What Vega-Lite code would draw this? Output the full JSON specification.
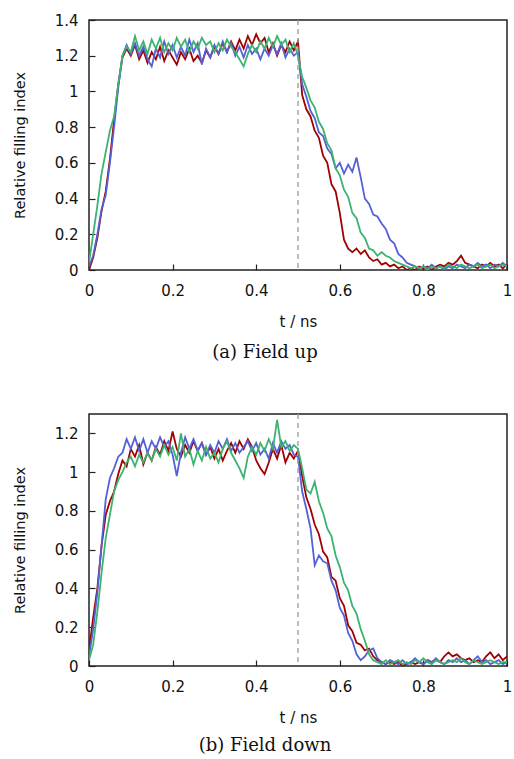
{
"$schema":"https://vega.github.io/schema/vega-lite/v6.json",
"background":"white",
"padding":{"left":11,"top":12,"right":5,"bottom":5},
"spacing":49,
"config":{
 "view":{"stroke":"#222","strokeWidth":1.5},
 "axis":{"domain":false,"grid":false,"tickSize":-6,"tickColor":"#222","tickWidth":1.2,"labelFont":"DejaVu Sans","labelFontSize":15,"labelColor":"#111","labelFlush":false,"labelOverlap":false,"titleFont":"DejaVu Sans","titleFontSize":15,"titleFontWeight":"normal","titleColor":"#111","format":"~g"},
 "axisX":{"labelPadding":19,"titlePadding":16},
 "axisY":{"labelPadding":17,"titlePadding":27,"titleFontSize":14.5},
 "title":{"font":"DejaVu Serif","fontSize":18,"fontWeight":"normal","color":"#111","orient":"bottom","anchor":"middle","frame":"bounds","offset":15,"dx":3}
},
"datasets":{
"a":[
{"t":0.00,"s":"r","v":0.00},{"t":0.01,"s":"r","v":0.07},{"t":0.02,"s":"r","v":0.18},{"t":0.03,"s":"r","v":0.33},{"t":0.04,"s":"r","v":0.44},{"t":0.05,"s":"r","v":0.62},{"t":0.06,"s":"r","v":0.84},{"t":0.07,"s":"r","v":1.04},{"t":0.08,"s":"r","v":1.19},{"t":0.09,"s":"r","v":1.24},
{"t":0.10,"s":"r","v":1.20},{"t":0.11,"s":"r","v":1.26},{"t":0.12,"s":"r","v":1.18},{"t":0.13,"s":"r","v":1.23},{"t":0.14,"s":"r","v":1.16},{"t":0.15,"s":"r","v":1.22},{"t":0.16,"s":"r","v":1.18},{"t":0.17,"s":"r","v":1.25},{"t":0.18,"s":"r","v":1.17},{"t":0.19,"s":"r","v":1.23},
{"t":0.20,"s":"r","v":1.19},{"t":0.21,"s":"r","v":1.15},{"t":0.22,"s":"r","v":1.22},{"t":0.23,"s":"r","v":1.18},{"t":0.24,"s":"r","v":1.24},{"t":0.25,"s":"r","v":1.17},{"t":0.26,"s":"r","v":1.20},{"t":0.27,"s":"r","v":1.16},{"t":0.28,"s":"r","v":1.23},{"t":0.29,"s":"r","v":1.19},
{"t":0.30,"s":"r","v":1.25},{"t":0.31,"s":"r","v":1.21},{"t":0.32,"s":"r","v":1.27},{"t":0.33,"s":"r","v":1.22},{"t":0.34,"s":"r","v":1.28},{"t":0.35,"s":"r","v":1.23},{"t":0.36,"s":"r","v":1.29},{"t":0.37,"s":"r","v":1.24},{"t":0.38,"s":"r","v":1.31},{"t":0.39,"s":"r","v":1.26},
{"t":0.40,"s":"r","v":1.32},{"t":0.41,"s":"r","v":1.27},{"t":0.42,"s":"r","v":1.30},{"t":0.43,"s":"r","v":1.22},{"t":0.44,"s":"r","v":1.27},{"t":0.45,"s":"r","v":1.20},{"t":0.46,"s":"r","v":1.26},{"t":0.47,"s":"r","v":1.22},{"t":0.48,"s":"r","v":1.28},{"t":0.49,"s":"r","v":1.23},
{"t":0.50,"s":"r","v":1.28},{"t":0.51,"s":"r","v":0.98},{"t":0.52,"s":"r","v":0.90},{"t":0.53,"s":"r","v":0.86},{"t":0.54,"s":"r","v":0.78},{"t":0.55,"s":"r","v":0.74},{"t":0.56,"s":"r","v":0.64},{"t":0.57,"s":"r","v":0.60},{"t":0.58,"s":"r","v":0.48},{"t":0.59,"s":"r","v":0.44},
{"t":0.60,"s":"r","v":0.32},{"t":0.61,"s":"r","v":0.17},{"t":0.62,"s":"r","v":0.12},{"t":0.63,"s":"r","v":0.10},{"t":0.64,"s":"r","v":0.12},{"t":0.65,"s":"r","v":0.09},{"t":0.66,"s":"r","v":0.11},{"t":0.67,"s":"r","v":0.07},{"t":0.68,"s":"r","v":0.05},{"t":0.69,"s":"r","v":0.06},
{"t":0.70,"s":"r","v":0.03},{"t":0.71,"s":"r","v":0.04},{"t":0.72,"s":"r","v":0.02},{"t":0.73,"s":"r","v":0.03},{"t":0.74,"s":"r","v":0.01},{"t":0.75,"s":"r","v":0.02},{"t":0.76,"s":"r","v":0.00},{"t":0.77,"s":"r","v":0.01},{"t":0.78,"s":"r","v":0.00},{"t":0.79,"s":"r","v":0.02},
{"t":0.80,"s":"r","v":0.01},{"t":0.81,"s":"r","v":0.02},{"t":0.82,"s":"r","v":0.00},{"t":0.83,"s":"r","v":0.02},{"t":0.84,"s":"r","v":0.03},{"t":0.85,"s":"r","v":0.02},{"t":0.86,"s":"r","v":0.04},{"t":0.87,"s":"r","v":0.03},{"t":0.88,"s":"r","v":0.05},{"t":0.89,"s":"r","v":0.08},
{"t":0.90,"s":"r","v":0.04},{"t":0.91,"s":"r","v":0.03},{"t":0.92,"s":"r","v":0.02},{"t":0.93,"s":"r","v":0.01},{"t":0.94,"s":"r","v":0.03},{"t":0.95,"s":"r","v":0.02},{"t":0.96,"s":"r","v":0.04},{"t":0.97,"s":"r","v":0.02},{"t":0.98,"s":"r","v":0.03},{"t":0.99,"s":"r","v":0.01},{"t":1.00,"s":"r","v":0.03},
{"t":0.00,"s":"b","v":0.02},{"t":0.01,"s":"b","v":0.08},{"t":0.02,"s":"b","v":0.20},{"t":0.03,"s":"b","v":0.34},{"t":0.04,"s":"b","v":0.42},{"t":0.05,"s":"b","v":0.60},{"t":0.06,"s":"b","v":0.80},{"t":0.07,"s":"b","v":1.02},{"t":0.08,"s":"b","v":1.20},{"t":0.09,"s":"b","v":1.26},
{"t":0.10,"s":"b","v":1.21},{"t":0.11,"s":"b","v":1.27},{"t":0.12,"s":"b","v":1.20},{"t":0.13,"s":"b","v":1.25},{"t":0.14,"s":"b","v":1.18},{"t":0.15,"s":"b","v":1.14},{"t":0.16,"s":"b","v":1.24},{"t":0.17,"s":"b","v":1.19},{"t":0.18,"s":"b","v":1.28},{"t":0.19,"s":"b","v":1.21},
{"t":0.20,"s":"b","v":1.26},{"t":0.21,"s":"b","v":1.19},{"t":0.22,"s":"b","v":1.25},{"t":0.23,"s":"b","v":1.20},{"t":0.24,"s":"b","v":1.29},{"t":0.25,"s":"b","v":1.22},{"t":0.26,"s":"b","v":1.27},{"t":0.27,"s":"b","v":1.15},{"t":0.28,"s":"b","v":1.24},{"t":0.29,"s":"b","v":1.19},
{"t":0.30,"s":"b","v":1.26},{"t":0.31,"s":"b","v":1.21},{"t":0.32,"s":"b","v":1.28},{"t":0.33,"s":"b","v":1.22},{"t":0.34,"s":"b","v":1.27},{"t":0.35,"s":"b","v":1.20},{"t":0.36,"s":"b","v":1.25},{"t":0.37,"s":"b","v":1.19},{"t":0.38,"s":"b","v":1.26},{"t":0.39,"s":"b","v":1.21},
{"t":0.40,"s":"b","v":1.24},{"t":0.41,"s":"b","v":1.18},{"t":0.42,"s":"b","v":1.24},{"t":0.43,"s":"b","v":1.20},{"t":0.44,"s":"b","v":1.26},{"t":0.45,"s":"b","v":1.21},{"t":0.46,"s":"b","v":1.27},{"t":0.47,"s":"b","v":1.19},{"t":0.48,"s":"b","v":1.24},{"t":0.49,"s":"b","v":1.20},
{"t":0.50,"s":"b","v":1.22},{"t":0.51,"s":"b","v":1.04},{"t":0.52,"s":"b","v":0.97},{"t":0.53,"s":"b","v":0.89},{"t":0.54,"s":"b","v":0.85},{"t":0.55,"s":"b","v":0.77},{"t":0.56,"s":"b","v":0.75},{"t":0.57,"s":"b","v":0.68},{"t":0.58,"s":"b","v":0.65},{"t":0.59,"s":"b","v":0.57},
{"t":0.60,"s":"b","v":0.60},{"t":0.61,"s":"b","v":0.54},{"t":0.62,"s":"b","v":0.59},{"t":0.63,"s":"b","v":0.55},{"t":0.64,"s":"b","v":0.63},{"t":0.65,"s":"b","v":0.52},{"t":0.66,"s":"b","v":0.40},{"t":0.67,"s":"b","v":0.37},{"t":0.68,"s":"b","v":0.31},{"t":0.69,"s":"b","v":0.30},
{"t":0.70,"s":"b","v":0.26},{"t":0.71,"s":"b","v":0.23},{"t":0.72,"s":"b","v":0.17},{"t":0.73,"s":"b","v":0.15},{"t":0.74,"s":"b","v":0.09},{"t":0.75,"s":"b","v":0.07},{"t":0.76,"s":"b","v":0.04},{"t":0.77,"s":"b","v":0.03},{"t":0.78,"s":"b","v":0.02},{"t":0.79,"s":"b","v":0.01},
{"t":0.80,"s":"b","v":0.02},{"t":0.81,"s":"b","v":0.01},{"t":0.82,"s":"b","v":0.03},{"t":0.83,"s":"b","v":0.01},{"t":0.84,"s":"b","v":0.02},{"t":0.85,"s":"b","v":0.00},{"t":0.86,"s":"b","v":0.02},{"t":0.87,"s":"b","v":0.01},{"t":0.88,"s":"b","v":0.03},{"t":0.89,"s":"b","v":0.02},
{"t":0.90,"s":"b","v":0.01},{"t":0.91,"s":"b","v":0.03},{"t":0.92,"s":"b","v":0.02},{"t":0.93,"s":"b","v":0.04},{"t":0.94,"s":"b","v":0.02},{"t":0.95,"s":"b","v":0.03},{"t":0.96,"s":"b","v":0.01},{"t":0.97,"s":"b","v":0.03},{"t":0.98,"s":"b","v":0.02},{"t":0.99,"s":"b","v":0.04},{"t":1.00,"s":"b","v":0.02},
{"t":0.00,"s":"g","v":0.04},{"t":0.01,"s":"g","v":0.20},{"t":0.02,"s":"g","v":0.36},{"t":0.03,"s":"g","v":0.54},{"t":0.04,"s":"g","v":0.66},{"t":0.05,"s":"g","v":0.78},{"t":0.06,"s":"g","v":0.86},{"t":0.07,"s":"g","v":1.04},{"t":0.08,"s":"g","v":1.20},{"t":0.09,"s":"g","v":1.25},
{"t":0.10,"s":"g","v":1.22},{"t":0.11,"s":"g","v":1.31},{"t":0.12,"s":"g","v":1.23},{"t":0.13,"s":"g","v":1.28},{"t":0.14,"s":"g","v":1.21},{"t":0.15,"s":"g","v":1.29},{"t":0.16,"s":"g","v":1.24},{"t":0.17,"s":"g","v":1.30},{"t":0.18,"s":"g","v":1.22},{"t":0.19,"s":"g","v":1.27},
{"t":0.20,"s":"g","v":1.23},{"t":0.21,"s":"g","v":1.30},{"t":0.22,"s":"g","v":1.25},{"t":0.23,"s":"g","v":1.29},{"t":0.24,"s":"g","v":1.22},{"t":0.25,"s":"g","v":1.28},{"t":0.26,"s":"g","v":1.24},{"t":0.27,"s":"g","v":1.30},{"t":0.28,"s":"g","v":1.26},{"t":0.29,"s":"g","v":1.28},
{"t":0.30,"s":"g","v":1.22},{"t":0.31,"s":"g","v":1.27},{"t":0.32,"s":"g","v":1.23},{"t":0.33,"s":"g","v":1.29},{"t":0.34,"s":"g","v":1.25},{"t":0.35,"s":"g","v":1.22},{"t":0.36,"s":"g","v":1.18},{"t":0.37,"s":"g","v":1.14},{"t":0.38,"s":"g","v":1.21},{"t":0.39,"s":"g","v":1.26},
{"t":0.40,"s":"g","v":1.22},{"t":0.41,"s":"g","v":1.28},{"t":0.42,"s":"g","v":1.24},{"t":0.43,"s":"g","v":1.30},{"t":0.44,"s":"g","v":1.25},{"t":0.45,"s":"g","v":1.31},{"t":0.46,"s":"g","v":1.26},{"t":0.47,"s":"g","v":1.29},{"t":0.48,"s":"g","v":1.22},{"t":0.49,"s":"g","v":1.27},
{"t":0.50,"s":"g","v":1.20},{"t":0.51,"s":"g","v":1.08},{"t":0.52,"s":"g","v":1.02},{"t":0.53,"s":"g","v":0.95},{"t":0.54,"s":"g","v":0.91},{"t":0.55,"s":"g","v":0.83},{"t":0.56,"s":"g","v":0.79},{"t":0.57,"s":"g","v":0.71},{"t":0.58,"s":"g","v":0.67},{"t":0.59,"s":"g","v":0.57},
{"t":0.60,"s":"g","v":0.53},{"t":0.61,"s":"g","v":0.45},{"t":0.62,"s":"g","v":0.41},{"t":0.63,"s":"g","v":0.32},{"t":0.64,"s":"g","v":0.29},{"t":0.65,"s":"g","v":0.21},{"t":0.66,"s":"g","v":0.18},{"t":0.67,"s":"g","v":0.12},{"t":0.68,"s":"g","v":0.11},{"t":0.69,"s":"g","v":0.08},
{"t":0.70,"s":"g","v":0.10},{"t":0.71,"s":"g","v":0.08},{"t":0.72,"s":"g","v":0.07},{"t":0.73,"s":"g","v":0.05},{"t":0.74,"s":"g","v":0.04},{"t":0.75,"s":"g","v":0.03},{"t":0.76,"s":"g","v":0.02},{"t":0.77,"s":"g","v":0.01},{"t":0.78,"s":"g","v":0.02},{"t":0.79,"s":"g","v":0.01},
{"t":0.80,"s":"g","v":0.02},{"t":0.81,"s":"g","v":0.00},{"t":0.82,"s":"g","v":0.02},{"t":0.83,"s":"g","v":0.01},{"t":0.84,"s":"g","v":0.02},{"t":0.85,"s":"g","v":0.01},{"t":0.86,"s":"g","v":0.03},{"t":0.87,"s":"g","v":0.02},{"t":0.88,"s":"g","v":0.01},{"t":0.89,"s":"g","v":0.03},
{"t":0.90,"s":"g","v":0.02},{"t":0.91,"s":"g","v":0.01},{"t":0.92,"s":"g","v":0.02},{"t":0.93,"s":"g","v":0.03},{"t":0.94,"s":"g","v":0.01},{"t":0.95,"s":"g","v":0.02},{"t":0.96,"s":"g","v":0.03},{"t":0.97,"s":"g","v":0.01},{"t":0.98,"s":"g","v":0.02},{"t":0.99,"s":"g","v":0.03},{"t":1.00,"s":"g","v":0.02}
],
"b":[
{"t":0.00,"s":"r","v":0.08},{"t":0.01,"s":"r","v":0.25},{"t":0.02,"s":"r","v":0.40},{"t":0.03,"s":"r","v":0.62},{"t":0.04,"s":"r","v":0.78},{"t":0.05,"s":"r","v":0.85},{"t":0.06,"s":"r","v":0.90},{"t":0.07,"s":"r","v":0.99},{"t":0.08,"s":"r","v":1.06},{"t":0.09,"s":"r","v":1.03},
{"t":0.10,"s":"r","v":1.12},{"t":0.11,"s":"r","v":1.08},{"t":0.12,"s":"r","v":1.14},{"t":0.13,"s":"r","v":1.04},{"t":0.14,"s":"r","v":1.10},{"t":0.15,"s":"r","v":1.06},{"t":0.16,"s":"r","v":1.13},{"t":0.17,"s":"r","v":1.09},{"t":0.18,"s":"r","v":1.16},{"t":0.19,"s":"r","v":1.11},
{"t":0.20,"s":"r","v":1.21},{"t":0.21,"s":"r","v":1.12},{"t":0.22,"s":"r","v":1.08},{"t":0.23,"s":"r","v":1.14},{"t":0.24,"s":"r","v":1.10},{"t":0.25,"s":"r","v":1.16},{"t":0.26,"s":"r","v":1.11},{"t":0.27,"s":"r","v":1.15},{"t":0.28,"s":"r","v":1.09},{"t":0.29,"s":"r","v":1.13},
{"t":0.30,"s":"r","v":1.07},{"t":0.31,"s":"r","v":1.12},{"t":0.32,"s":"r","v":1.06},{"t":0.33,"s":"r","v":1.11},{"t":0.34,"s":"r","v":1.15},{"t":0.35,"s":"r","v":1.10},{"t":0.36,"s":"r","v":1.16},{"t":0.37,"s":"r","v":1.12},{"t":0.38,"s":"r","v":1.17},{"t":0.39,"s":"r","v":1.13},
{"t":0.40,"s":"r","v":1.06},{"t":0.41,"s":"r","v":1.02},{"t":0.42,"s":"r","v":0.99},{"t":0.43,"s":"r","v":1.05},{"t":0.44,"s":"r","v":1.12},{"t":0.45,"s":"r","v":1.07},{"t":0.46,"s":"r","v":1.14},{"t":0.47,"s":"r","v":1.05},{"t":0.48,"s":"r","v":1.10},{"t":0.49,"s":"r","v":1.07},
{"t":0.50,"s":"r","v":1.11},{"t":0.51,"s":"r","v":0.98},{"t":0.52,"s":"r","v":0.87},{"t":0.53,"s":"r","v":0.81},{"t":0.54,"s":"r","v":0.73},{"t":0.55,"s":"r","v":0.68},{"t":0.56,"s":"r","v":0.59},{"t":0.57,"s":"r","v":0.56},{"t":0.58,"s":"r","v":0.46},{"t":0.59,"s":"r","v":0.44},
{"t":0.60,"s":"r","v":0.35},{"t":0.61,"s":"r","v":0.31},{"t":0.62,"s":"r","v":0.21},{"t":0.63,"s":"r","v":0.18},{"t":0.64,"s":"r","v":0.12},{"t":0.65,"s":"r","v":0.11},{"t":0.66,"s":"r","v":0.08},{"t":0.67,"s":"r","v":0.09},{"t":0.68,"s":"r","v":0.05},{"t":0.69,"s":"r","v":0.03},
{"t":0.70,"s":"r","v":0.02},{"t":0.71,"s":"r","v":0.01},{"t":0.72,"s":"r","v":0.02},{"t":0.73,"s":"r","v":0.01},{"t":0.74,"s":"r","v":0.02},{"t":0.75,"s":"r","v":0.00},{"t":0.76,"s":"r","v":0.01},{"t":0.77,"s":"r","v":0.02},{"t":0.78,"s":"r","v":0.01},{"t":0.79,"s":"r","v":0.02},
{"t":0.80,"s":"r","v":0.01},{"t":0.81,"s":"r","v":0.03},{"t":0.82,"s":"r","v":0.02},{"t":0.83,"s":"r","v":0.03},{"t":0.84,"s":"r","v":0.02},{"t":0.85,"s":"r","v":0.05},{"t":0.86,"s":"r","v":0.07},{"t":0.87,"s":"r","v":0.05},{"t":0.88,"s":"r","v":0.06},{"t":0.89,"s":"r","v":0.04},
{"t":0.90,"s":"r","v":0.03},{"t":0.91,"s":"r","v":0.04},{"t":0.92,"s":"r","v":0.02},{"t":0.93,"s":"r","v":0.03},{"t":0.94,"s":"r","v":0.02},{"t":0.95,"s":"r","v":0.05},{"t":0.96,"s":"r","v":0.07},{"t":0.97,"s":"r","v":0.04},{"t":0.98,"s":"r","v":0.06},{"t":0.99,"s":"r","v":0.03},{"t":1.00,"s":"r","v":0.05},
{"t":0.00,"s":"b","v":0.05},{"t":0.01,"s":"b","v":0.19},{"t":0.02,"s":"b","v":0.38},{"t":0.03,"s":"b","v":0.62},{"t":0.04,"s":"b","v":0.86},{"t":0.05,"s":"b","v":0.97},{"t":0.06,"s":"b","v":1.02},{"t":0.07,"s":"b","v":1.08},{"t":0.08,"s":"b","v":1.10},{"t":0.09,"s":"b","v":1.17},
{"t":0.10,"s":"b","v":1.12},{"t":0.11,"s":"b","v":1.18},{"t":0.12,"s":"b","v":1.11},{"t":0.13,"s":"b","v":1.17},{"t":0.14,"s":"b","v":1.10},{"t":0.15,"s":"b","v":1.16},{"t":0.16,"s":"b","v":1.12},{"t":0.17,"s":"b","v":1.18},{"t":0.18,"s":"b","v":1.13},{"t":0.19,"s":"b","v":1.16},
{"t":0.20,"s":"b","v":1.09},{"t":0.21,"s":"b","v":0.98},{"t":0.22,"s":"b","v":1.10},{"t":0.23,"s":"b","v":1.18},{"t":0.24,"s":"b","v":1.12},{"t":0.25,"s":"b","v":1.17},{"t":0.26,"s":"b","v":1.11},{"t":0.27,"s":"b","v":1.15},{"t":0.28,"s":"b","v":1.09},{"t":0.29,"s":"b","v":1.14},
{"t":0.30,"s":"b","v":1.10},{"t":0.31,"s":"b","v":1.16},{"t":0.32,"s":"b","v":1.12},{"t":0.33,"s":"b","v":1.17},{"t":0.34,"s":"b","v":1.11},{"t":0.35,"s":"b","v":1.15},{"t":0.36,"s":"b","v":1.10},{"t":0.37,"s":"b","v":1.13},{"t":0.38,"s":"b","v":1.16},{"t":0.39,"s":"b","v":1.11},
{"t":0.40,"s":"b","v":1.15},{"t":0.41,"s":"b","v":1.09},{"t":0.42,"s":"b","v":1.12},{"t":0.43,"s":"b","v":1.07},{"t":0.44,"s":"b","v":1.15},{"t":0.45,"s":"b","v":1.10},{"t":0.46,"s":"b","v":1.16},{"t":0.47,"s":"b","v":1.12},{"t":0.48,"s":"b","v":1.14},{"t":0.49,"s":"b","v":1.09},
{"t":0.50,"s":"b","v":1.08},{"t":0.51,"s":"b","v":0.90},{"t":0.52,"s":"b","v":0.81},{"t":0.53,"s":"b","v":0.71},{"t":0.54,"s":"b","v":0.52},{"t":0.55,"s":"b","v":0.57},{"t":0.56,"s":"b","v":0.54},{"t":0.57,"s":"b","v":0.53},{"t":0.58,"s":"b","v":0.44},{"t":0.59,"s":"b","v":0.39},
{"t":0.60,"s":"b","v":0.30},{"t":0.61,"s":"b","v":0.26},{"t":0.62,"s":"b","v":0.17},{"t":0.63,"s":"b","v":0.13},{"t":0.64,"s":"b","v":0.06},{"t":0.65,"s":"b","v":0.03},{"t":0.66,"s":"b","v":0.05},{"t":0.67,"s":"b","v":0.08},{"t":0.68,"s":"b","v":0.09},{"t":0.69,"s":"b","v":0.04},
{"t":0.70,"s":"b","v":0.02},{"t":0.71,"s":"b","v":0.01},{"t":0.72,"s":"b","v":0.03},{"t":0.73,"s":"b","v":0.02},{"t":0.74,"s":"b","v":0.01},{"t":0.75,"s":"b","v":0.03},{"t":0.76,"s":"b","v":0.01},{"t":0.77,"s":"b","v":0.02},{"t":0.78,"s":"b","v":0.04},{"t":0.79,"s":"b","v":0.02},
{"t":0.80,"s":"b","v":0.01},{"t":0.81,"s":"b","v":0.03},{"t":0.82,"s":"b","v":0.02},{"t":0.83,"s":"b","v":0.04},{"t":0.84,"s":"b","v":0.02},{"t":0.85,"s":"b","v":0.01},{"t":0.86,"s":"b","v":0.03},{"t":0.87,"s":"b","v":0.02},{"t":0.88,"s":"b","v":0.04},{"t":0.89,"s":"b","v":0.02},
{"t":0.90,"s":"b","v":0.03},{"t":0.91,"s":"b","v":0.01},{"t":0.92,"s":"b","v":0.03},{"t":0.93,"s":"b","v":0.05},{"t":0.94,"s":"b","v":0.02},{"t":0.95,"s":"b","v":0.03},{"t":0.96,"s":"b","v":0.01},{"t":0.97,"s":"b","v":0.02},{"t":0.98,"s":"b","v":0.03},{"t":0.99,"s":"b","v":0.01},{"t":1.00,"s":"b","v":0.02},
{"t":0.00,"s":"g","v":0.03},{"t":0.01,"s":"g","v":0.11},{"t":0.02,"s":"g","v":0.28},{"t":0.03,"s":"g","v":0.48},{"t":0.04,"s":"g","v":0.66},{"t":0.05,"s":"g","v":0.78},{"t":0.06,"s":"g","v":0.90},{"t":0.07,"s":"g","v":0.96},{"t":0.08,"s":"g","v":1.00},{"t":0.09,"s":"g","v":1.05},
{"t":0.10,"s":"g","v":1.08},{"t":0.11,"s":"g","v":1.03},{"t":0.12,"s":"g","v":1.09},{"t":0.13,"s":"g","v":1.05},{"t":0.14,"s":"g","v":1.10},{"t":0.15,"s":"g","v":1.06},{"t":0.16,"s":"g","v":1.12},{"t":0.17,"s":"g","v":1.08},{"t":0.18,"s":"g","v":1.14},{"t":0.19,"s":"g","v":1.09},
{"t":0.20,"s":"g","v":1.13},{"t":0.21,"s":"g","v":1.06},{"t":0.22,"s":"g","v":1.20},{"t":0.23,"s":"g","v":1.08},{"t":0.24,"s":"g","v":1.12},{"t":0.25,"s":"g","v":1.04},{"t":0.26,"s":"g","v":1.11},{"t":0.27,"s":"g","v":1.06},{"t":0.28,"s":"g","v":1.13},{"t":0.29,"s":"g","v":1.07},
{"t":0.30,"s":"g","v":1.10},{"t":0.31,"s":"g","v":1.05},{"t":0.32,"s":"g","v":1.12},{"t":0.33,"s":"g","v":1.16},{"t":0.34,"s":"g","v":1.10},{"t":0.35,"s":"g","v":1.06},{"t":0.36,"s":"g","v":1.02},{"t":0.37,"s":"g","v":0.97},{"t":0.38,"s":"g","v":1.08},{"t":0.39,"s":"g","v":1.13},
{"t":0.40,"s":"g","v":1.09},{"t":0.41,"s":"g","v":1.15},{"t":0.42,"s":"g","v":1.11},{"t":0.43,"s":"g","v":1.17},{"t":0.44,"s":"g","v":1.12},{"t":0.45,"s":"g","v":1.27},{"t":0.46,"s":"g","v":1.13},{"t":0.47,"s":"g","v":1.16},{"t":0.48,"s":"g","v":1.11},{"t":0.49,"s":"g","v":1.14},
{"t":0.50,"s":"g","v":1.12},{"t":0.51,"s":"g","v":1.02},{"t":0.52,"s":"g","v":0.91},{"t":0.53,"s":"g","v":0.89},{"t":0.54,"s":"g","v":0.95},{"t":0.55,"s":"g","v":0.85},{"t":0.56,"s":"g","v":0.79},{"t":0.57,"s":"g","v":0.71},{"t":0.58,"s":"g","v":0.67},{"t":0.59,"s":"g","v":0.57},
{"t":0.60,"s":"g","v":0.51},{"t":0.61,"s":"g","v":0.43},{"t":0.62,"s":"g","v":0.39},{"t":0.63,"s":"g","v":0.31},{"t":0.64,"s":"g","v":0.27},{"t":0.65,"s":"g","v":0.19},{"t":0.66,"s":"g","v":0.13},{"t":0.67,"s":"g","v":0.06},{"t":0.68,"s":"g","v":0.03},{"t":0.69,"s":"g","v":0.02},
{"t":0.70,"s":"g","v":0.01},{"t":0.71,"s":"g","v":0.03},{"t":0.72,"s":"g","v":0.01},{"t":0.73,"s":"g","v":0.02},{"t":0.74,"s":"g","v":0.03},{"t":0.75,"s":"g","v":0.01},{"t":0.76,"s":"g","v":0.02},{"t":0.77,"s":"g","v":0.01},{"t":0.78,"s":"g","v":0.03},{"t":0.79,"s":"g","v":0.02},
{"t":0.80,"s":"g","v":0.04},{"t":0.81,"s":"g","v":0.02},{"t":0.82,"s":"g","v":0.01},{"t":0.83,"s":"g","v":0.03},{"t":0.84,"s":"g","v":0.02},{"t":0.85,"s":"g","v":0.01},{"t":0.86,"s":"g","v":0.02},{"t":0.87,"s":"g","v":0.03},{"t":0.88,"s":"g","v":0.02},{"t":0.89,"s":"g","v":0.04},
{"t":0.90,"s":"g","v":0.02},{"t":0.91,"s":"g","v":0.01},{"t":0.92,"s":"g","v":0.03},{"t":0.93,"s":"g","v":0.02},{"t":0.94,"s":"g","v":0.01},{"t":0.95,"s":"g","v":0.02},{"t":0.96,"s":"g","v":0.03},{"t":0.97,"s":"g","v":0.02},{"t":0.98,"s":"g","v":0.01},{"t":0.99,"s":"g","v":0.02},{"t":1.00,"s":"g","v":0.02}
]
},
"vconcat":[
{
 "width":418,"height":250,
 "title":{"text":"(a) Field up"},
 "layer":[
  {"data":{"name":"a"},"mark":{"type":"line","strokeWidth":1.8,"clip":true},
   "encoding":{
    "x":{"field":"t","type":"quantitative","scale":{"domain":[0,1],"nice":false},"axis":{"title":"t / ns","values":[0,0.2,0.4,0.6,0.8,1]}},
    "y":{"field":"v","type":"quantitative","scale":{"domain":[0,1.4],"nice":false},"axis":{"title":"Relative filling index","values":[0,0.2,0.4,0.6,0.8,1,1.2,1.4]}},
    "color":{"field":"s","type":"nominal","scale":{"domain":["r","b","g"],"range":["#a00000","#5461d6","#3cb371"]},"legend":null}}},
  {"data":{"values":[{"t":0.5}]},"mark":{"type":"rule","color":"#999","strokeWidth":1.3,"strokeDash":[5,4]},
   "encoding":{"x":{"field":"t","type":"quantitative"}}}
 ]
},
{
 "width":418,"height":252,
 "title":{"text":"(b) Field down","offset":12},
 "layer":[
  {"data":{"name":"b"},"mark":{"type":"line","strokeWidth":1.8,"clip":true},
   "encoding":{
    "x":{"field":"t","type":"quantitative","scale":{"domain":[0,1],"nice":false},"axis":{"title":"t / ns","values":[0,0.2,0.4,0.6,0.8,1]}},
    "y":{"field":"v","type":"quantitative","scale":{"domain":[0,1.3],"nice":false},"axis":{"title":"Relative filling index","values":[0,0.2,0.4,0.6,0.8,1,1.2]}},
    "color":{"field":"s","type":"nominal","scale":{"domain":["r","b","g"],"range":["#a00000","#5461d6","#3cb371"]},"legend":null}}},
  {"data":{"values":[{"t":0.5}]},"mark":{"type":"rule","color":"#999","strokeWidth":1.3,"strokeDash":[5,4]},
   "encoding":{"x":{"field":"t","type":"quantitative"}}}
 ]
}
]
}
